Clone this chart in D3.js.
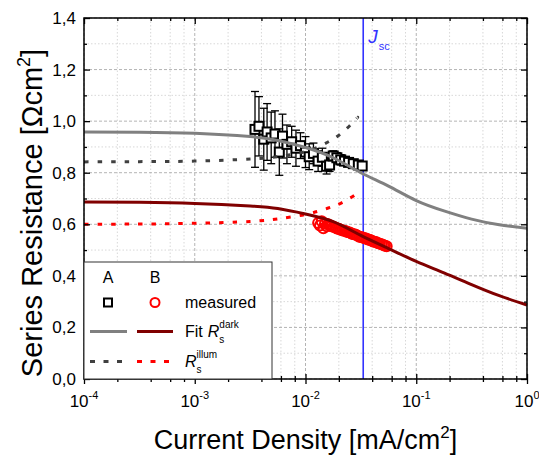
<!DOCTYPE html>
<html>
<head>
<meta charset="utf-8">
<script src="https://cdn.jsdelivr.net/npm/d3@7"></script>
<style>
  body { margin: 0; background: #fff; }
  text { font-family: "Liberation Sans", Arial, sans-serif; }
</style>
</head>
<body>
<div id="chart-area"></div>
<script>
// ---- data ----

// ticks
let majorTicks = [1e-4, 1e-3, 1e-2, 1e-1, 1];
let majorExp = ["-4", "-3", "-2", "-1", "0"];
let minorMult = [2, 4, 6, 8];
let yTicks = [0, 0.2, 0.4, 0.6, 0.8, 1.0, 1.2, 1.4];
let yMinorTicks = [0.1, 0.3, 0.5, 0.7, 0.9, 1.1, 1.3];

// fitted curves (dark)
let fitX = [0.0001, 0.000316, 0.001, 0.00316, 0.00562, 0.01, 0.0178, 0.0316, 0.0562, 0.1, 0.178, 0.316, 0.562, 1];
let fitA = [0.958, 0.957, 0.953, 0.940, 0.925, 0.898, 0.858, 0.800, 0.748, 0.692, 0.652, 0.620, 0.598, 0.585];
let fitB = [0.686, 0.685, 0.681, 0.671, 0.661, 0.640, 0.610, 0.557, 0.506, 0.456, 0.412, 0.366, 0.323, 0.287];

// illuminated curves
let illumX = [0.0001, 0.000316, 0.001, 0.00316, 0.00562, 0.01, 0.0158, 0.0214, 0.0282, 0.0295];
let illumA = [0.842, 0.843, 0.845, 0.853, 0.862, 0.882, 0.918, 0.955, 1.005, 1.015];
let illumB = [0.600, 0.601, 0.604, 0.611, 0.621, 0.638, 0.662, 0.684, 0.715, 0.722];

// measured A (squares with error bars)
let measAX = [0.0035, 0.0038, 0.0042, 0.0045, 0.0049, 0.0053, 0.0058, 0.0062, 0.0068, 0.0075, 0.0082, 0.0090, 0.0100,
              0.0108, 0.0118, 0.0130, 0.0142, 0.0155, 0.0165, 0.0178, 0.0192, 0.0208, 0.0225, 0.0245, 0.0270, 0.0300, 0.0325];
let measAY = [0.968, 0.980, 0.930, 0.958, 0.935, 0.950, 0.880, 0.942, 0.910, 0.920, 0.895, 0.905, 0.880,
              0.862, 0.875, 0.845, 0.860, 0.825, 0.830, 0.865, 0.858, 0.850, 0.845, 0.840, 0.835, 0.830, 0.826];
let measAErr = [0.147, 0.115, 0.120, 0.110, 0.100, 0.090, 0.090, 0.085, 0.075, 0.060, 0.070, 0.050, 0.060,
                0.050, 0.040, 0.040, 0.035, 0.030, 0.025, 0.020, 0.020, 0.020, 0.015, 0.015, 0.012, 0.010, 0.010];

// measured B (circles)
let measBX = [0.0130, 0.0135, 0.0140, 0.0145, 0.0150, 0.0155, 0.0160, 0.0166, 0.0172, 0.0178, 0.0185, 0.0192, 0.0199,
              0.0206, 0.0214, 0.0222, 0.0230, 0.0238, 0.0247, 0.0256, 0.0265, 0.0275, 0.0285, 0.0295, 0.0306, 0.0317,
              0.0329, 0.0341, 0.0353, 0.0366, 0.0379, 0.0393, 0.0407, 0.0422, 0.0437, 0.0453, 0.0469, 0.0486, 0.0504,
              0.0522, 0.0541];
let measBY = [0.605, 0.595, 0.612, 0.585, 0.603, 0.592, 0.600, 0.595, 0.592, 0.590, 0.588, 0.584, 0.583,
              0.580, 0.577, 0.575, 0.574, 0.570, 0.569, 0.566, 0.562, 0.561, 0.559, 0.556, 0.552, 0.551,
              0.549, 0.546, 0.545, 0.541, 0.540, 0.537, 0.533, 0.532, 0.530, 0.526, 0.525, 0.523, 0.520,
              0.517, 0.515];

// short-circuit current density
let jsc = 0.0332;

// ---- SVG drawing area ----
let margin = {top: 18, right: 12, bottom: 77, left: 84};
let width = 539 - margin.left - margin.right,
    height = 456 - margin.top - margin.bottom;

let svg = d3.select("#chart-area").append("svg")
    .attr("width", width + margin.left + margin.right)
    .attr("height", height + margin.top + margin.bottom)
  .append("g")
    .attr("transform", "translate(" + margin.left + "," + margin.top + ")");

// Scales
let x = d3.scaleLog().domain([1e-4, 1]).range([0, width]);
let y = d3.scaleLinear().domain([0, 1.4]).range([height, 0]);

let minorTicks = [];
majorTicks.slice(0, -1).forEach(m => minorMult.forEach(k => minorTicks.push(m * k)));

// Grid
svg.append("g").selectAll("line.xminor")
    .data(minorTicks).enter().append("line")
    .attr("x1", d => x(d)).attr("x2", d => x(d))
    .attr("y1", 0).attr("y2", height)
    .attr("stroke", "#d8d8d8").attr("stroke-dasharray", "1.5,2");
svg.append("g").selectAll("line.yminor")
    .data(yMinorTicks).enter().append("line")
    .attr("x1", 0).attr("x2", width)
    .attr("y1", d => y(d)).attr("y2", d => y(d))
    .attr("stroke", "#d8d8d8").attr("stroke-dasharray", "1.5,2");
svg.append("g").selectAll("line.xmajor")
    .data(majorTicks).enter().append("line")
    .attr("x1", d => x(d)).attr("x2", d => x(d))
    .attr("y1", 0).attr("y2", height)
    .attr("stroke", "#b4b4b4").attr("stroke-dasharray", "3,2");
svg.append("g").selectAll("line.ymajor")
    .data(yTicks).enter().append("line")
    .attr("x1", 0).attr("x2", width)
    .attr("y1", d => y(d)).attr("y2", d => y(d))
    .attr("stroke", "#b4b4b4").attr("stroke-dasharray", "3,2");

// Jsc marker line
svg.append("line")
    .attr("x1", x(jsc)).attr("x2", x(jsc))
    .attr("y1", 0).attr("y2", height)
    .attr("stroke", "#3333ff").attr("stroke-width", 1.6);
let jLabel = svg.append("text")
    .attr("x", x(jsc) + 5).attr("y", 25)
    .attr("fill", "#3333ff").style("font-size", "19px");
jLabel.append("tspan").style("font-style", "italic").text("J");
jLabel.append("tspan").attr("dy", 7).attr("dx", 1).style("font-size", "11px").text("sc");

// Measured B: circles
svg.append("g").selectAll("circle")
    .data(d3.zip(measBX, measBY)).enter().append("circle")
    .attr("cx", d => x(d[0])).attr("cy", d => y(d[1]))
    .attr("r", 5)
    .attr("fill", "none").attr("stroke", "#ff0000").attr("stroke-width", 2);

// Measured A: error bars + squares
let measA = d3.zip(measAX, measAY, measAErr);
let eb = svg.append("g").attr("stroke", "#000").attr("stroke-width", 1.3);
eb.selectAll("line.bar").data(measA).enter().append("line")
    .attr("x1", d => x(d[0])).attr("x2", d => x(d[0]))
    .attr("y1", d => y(d[1] - d[2])).attr("y2", d => y(d[1] + d[2]));
eb.selectAll("line.top").data(measA).enter().append("line")
    .attr("x1", d => x(d[0]) - 4).attr("x2", d => x(d[0]) + 4)
    .attr("y1", d => y(d[1] + d[2])).attr("y2", d => y(d[1] + d[2]));
eb.selectAll("line.bot").data(measA).enter().append("line")
    .attr("x1", d => x(d[0]) - 4).attr("x2", d => x(d[0]) + 4)
    .attr("y1", d => y(d[1] - d[2])).attr("y2", d => y(d[1] - d[2]));
svg.append("g").selectAll("rect")
    .data(measA).enter().append("rect")
    .attr("x", d => x(d[0]) - 4.5).attr("y", d => y(d[1]) - 4.5)
    .attr("width", 9).attr("height", 9)
    .attr("fill", "#fff").attr("stroke", "#000").attr("stroke-width", 2);

// Curves
let line = d3.line()
    .x(d => x(d[0]))
    .y(d => y(d[1]))
    .curve(d3.curveNatural);

let curves = [
    {data: d3.zip(illumX, illumA), color: "#404040", dash: "4.5,9"},
    {data: d3.zip(illumX, illumB), color: "#ff0000", dash: "4.5,9"},
    {data: d3.zip(fitX, fitA), color: "#808080", dash: null},
    {data: d3.zip(fitX, fitB), color: "#800000", dash: null}
];
curves.forEach(c => {
    svg.append("path")
        .datum(c.data)
        .attr("d", line)
        .attr("fill", "none")
        .attr("stroke", c.color)
        .attr("stroke-width", 3)
        .attr("stroke-dasharray", c.dash);
});

// Axes (ticks only, frame drawn separately)
let allX = majorTicks.concat(minorTicks);
let isMajor = d => majorTicks.indexOf(d) >= 0;
let allY = yTicks.concat(yMinorTicks);
let isMajorY = d => yTicks.indexOf(d) >= 0;

let xBottom = svg.append("g")
    .attr("transform", `translate(0,${height})`)
    .call(d3.axisBottom(x).tickValues(allX).tickFormat("").tickSizeOuter(0));
xBottom.selectAll(".tick line")
    .attr("y1", d => isMajor(d) ? -5 : -3)
    .attr("y2", d => isMajor(d) ? 5 : 3);

let xTop = svg.append("g")
    .call(d3.axisTop(x).tickValues(allX).tickFormat("").tickSizeOuter(0));
xTop.selectAll(".tick line").attr("y2", d => isMajor(d) ? 6 : 3);

let yLeft = svg.append("g")
    .call(d3.axisLeft(y).tickValues(allY).tickFormat("").tickSizeOuter(0));
yLeft.selectAll(".tick line").attr("x2", d => isMajorY(d) ? 6 : 3);

let yRight = svg.append("g")
    .attr("transform", `translate(${width},0)`)
    .call(d3.axisRight(y).tickValues(allY).tickFormat("").tickSizeOuter(0));
yRight.selectAll(".tick line").attr("x2", d => isMajorY(d) ? -6 : -3);

svg.selectAll(".domain").remove();
svg.selectAll(".tick line").attr("stroke", "#000").attr("stroke-width", 1.3);

// Frame
svg.append("rect")
    .attr("width", width).attr("height", height)
    .attr("fill", "none").attr("stroke", "#000").attr("stroke-width", 1.5);

// Tick labels
svg.append("g").selectAll("text")
    .data(yTicks).enter().append("text")
    .attr("x", -8).attr("y", d => y(d) + 6)
    .attr("text-anchor", "end")
    .style("font-size", "17px")
    .text(d => d3.format(".1f")(d).replace(".", ","));

let xl = svg.append("g").selectAll("text")
    .data(majorTicks).enter().append("text")
    .attr("x", d => x(d)).attr("y", height + 28)
    .attr("text-anchor", "middle")
    .style("font-size", "17px");
xl.append("tspan").text("10");
xl.append("tspan").attr("dy", -8).style("font-size", "11px").text((d, i) => majorExp[i]);

// Axis titles
let xt = svg.append("text")
    .attr("x", width / 2).attr("y", height + 70)
    .attr("text-anchor", "middle")
    .style("font-size", "27px");
xt.append("tspan").text("Current Density [mA/cm");
xt.append("tspan").attr("dy", -11).style("font-size", "17px").text("2");
xt.append("tspan").attr("dy", 11).text("]");

let yt = svg.append("text")
    .attr("transform", `translate(${42 - margin.left},${213 - margin.top}) rotate(-90)`)
    .attr("text-anchor", "middle")
    .style("font-size", "29px");
yt.append("tspan").text("Series Resistance [\u03A9cm");
yt.append("tspan").attr("dy", -12).style("font-size", "18px").text("2");
yt.append("tspan").attr("dy", 12).text("]");

// Legend
let lg = svg.append("g").attr("transform", `translate(0,${262 - margin.top})`);
lg.append("rect")
    .attr("width", 188).attr("height", height - (262 - margin.top))
    .attr("fill", "#fff").attr("stroke", "#333").attr("stroke-width", 1);

lg.append("text").attr("x", 24).attr("y", 21).attr("text-anchor", "middle")
    .style("font-size", "16px").text("A");
lg.append("text").attr("x", 71).attr("y", 21).attr("text-anchor", "middle")
    .style("font-size", "16px").text("B");

lg.append("rect").attr("x", 20).attr("y", 36.5).attr("width", 8).attr("height", 8)
    .attr("fill", "#fff").attr("stroke", "#000").attr("stroke-width", 2);
lg.append("circle").attr("cx", 71).attr("cy", 40.5).attr("r", 4.5)
    .attr("fill", "none").attr("stroke", "#ff0000").attr("stroke-width", 2);
lg.append("text").attr("x", 101).attr("y", 46).style("font-size", "16px").text("measured");

let legendLines = [
    {x1: 6, x2: 43, y: 69.5, color: "#808080", dash: null},
    {x1: 53, x2: 89, y: 69.5, color: "#800000", dash: null},
    {x1: 6, x2: 43, y: 99.5, color: "#404040", dash: "5,8.5"},
    {x1: 53, x2: 89, y: 99.5, color: "#ff0000", dash: "5,8.5"}
];
legendLines.forEach(l => {
    lg.append("line")
        .attr("x1", l.x1).attr("x2", l.x2).attr("y1", l.y).attr("y2", l.y)
        .attr("stroke", l.color).attr("stroke-width", 3)
        .attr("stroke-dasharray", l.dash);
});

// R with stacked subscript / superscript
function rLabel(g, x0, y0, sup) {
    let r = g.append("text").attr("x", x0).attr("y", y0)
        .style("font-size", "16px").style("font-style", "italic").text("R");
    let w = r.node().getComputedTextLength();
    g.append("text").attr("x", x0 + w).attr("y", y0 + 6)
        .style("font-size", "10px").text("s");
    g.append("text").attr("x", x0 + w).attr("y", y0 - 9)
        .style("font-size", "10px").text(sup);
}
let fit = lg.append("text").attr("x", 101).attr("y", 75).style("font-size", "16px").text("Fit");
rLabel(lg, 101 + fit.node().getComputedTextLength() + 5, 75, "dark");
rLabel(lg, 101, 105, "illum");
</script>
</body>
</html>
